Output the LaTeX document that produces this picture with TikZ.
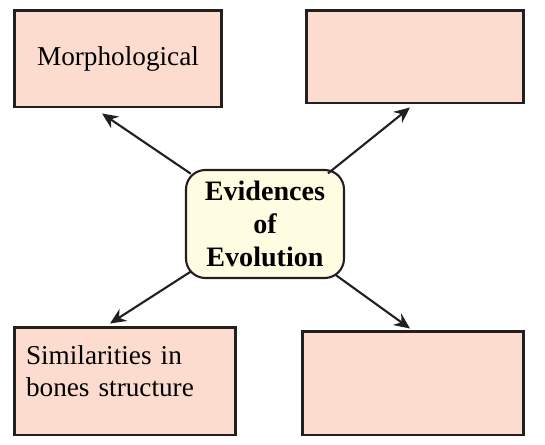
\documentclass[tikz,border=0pt]{standalone}
\usepackage{fontspec}
\setmainfont{Liberation Serif}
\usetikzlibrary{positioning, arrows.meta, calc}
\definecolor{evpeach}{HTML}{FCDCCF}
\definecolor{evcream}{HTML}{FFFDE1}
\definecolor{evink}{HTML}{231F20}

\begin{document}
\begin{tikzpicture}[x=0.02cm, y=-0.02cm,
        b/.style={draw=evink, fill=evpeach, line width=1.7pt, font=\fontsize{15.5}{18.7}\selectfont, inner sep=0pt},
        c/.style={draw=evink, fill=evcream, line width=1.2pt, rounded corners=11pt, font=\fontsize{16}{18.7}\selectfont\bfseries, align=center, minimum width=3.16cm, minimum height=2.16cm},
        a/.style={-{Stealth[length=9pt,width=8pt]}, line width=1.2pt, draw=evink, shorten <=-4pt}]
      \useasboundingbox (0,0) rectangle (545,444);
      % centre
      \node[c] (ev) at (265,224) {Evidences\\of\\Evolution};
      % four boxes
      \node[b, minimum width=4.16cm, minimum height=1.94cm] (tl) at (118,58.5) {Morphological};
      \node[b, minimum width=4.36cm, minimum height=1.86cm] (tr) at (415,56.5) {};
      \node[b, minimum height=2.16cm, text width=3.96cm, inner xsep=0.24cm, align=left, text depth=30pt] (bl) at (125,381) {Similarities in\\bones structure};
      \node[b, minimum width=4.44cm, minimum height=2.08cm] (br) at (413,383) {};
      % arrow tips
      \coordinate (ttl) at ($(tl.south)+(-16,5)$);
      \coordinate (ttr) at ($(tr.south)+(-5,3)$);
      \coordinate (tbl) at ($(bl.north)+(-15,-2)$);
      \coordinate (tbr) at ($(br.north)+(-3,-1)$);
      \draw[a] (ev) -- (ttl);
      \draw[a] (ev) -- (ttr);
      \draw[a] (ev) -- (tbl);
      \draw[a] (ev) -- (tbr);
    \end{tikzpicture}
\end{document}
